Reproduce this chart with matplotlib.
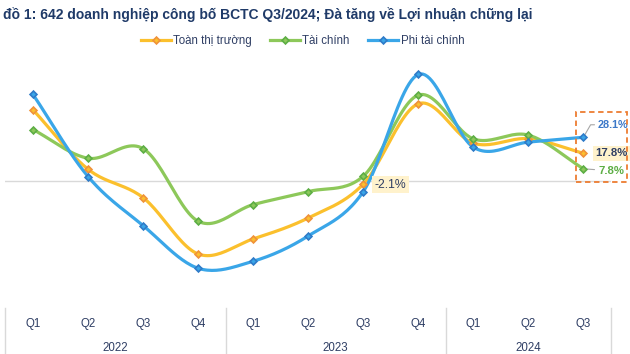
import numpy as np
import matplotlib.pyplot as plt
from matplotlib.patches import Rectangle

quarters = ['Q1', 'Q2', 'Q3', 'Q4', 'Q1', 'Q2', 'Q3', 'Q4', 'Q1', 'Q2', 'Q3']
years = ['2022', '2023', '2024']
toan_thi_truong = [45.8, 7.5, -10.8, -47.1, -37.4, -23.9, -2.1, 49.7, 24.3, 27.2, 17.8]
tai_chinh = [33.1, 14.6, 20.8, -26.0, -15.3, -6.9, 3.0, 55.3, 27.1, 29.5, 7.8]
phi_tai_chinh = [55.7, 2.8, -28.8, -56.3, -51.8, -35.5, -6.9, 68.6, 21.7, 25.0, 28.1]

NAVY = '#2F3E64'


def smooth(y, n=24):
    # Catmull-Rom curve through the points, close to Excel's smoothed line
    y = np.asarray(y, float)
    p = np.concatenate([[2 * y[0] - y[1]], y, [2 * y[-1] - y[-2]]])
    xs, ys = [], []
    for i in range(len(y) - 1):
        t = np.linspace(0, 1, n, endpoint=False)
        p0, p1, p2, p3 = p[i], p[i + 1], p[i + 2], p[i + 3]
        ys.append(0.5 * (2 * p1 + (-p0 + p2) * t + (2 * p0 - 5 * p1 + 4 * p2 - p3) * t ** 2
                         + (-p0 + 3 * p1 - 3 * p2 + p3) * t ** 3))
        xs.append(i + t)
    xs.append([len(y) - 1])
    ys.append([y[-1]])
    return np.concatenate(xs), np.concatenate(ys)


fig = plt.figure(figsize=(6.3, 3.54), dpi=100)
ax = fig.add_axes([0.0087, 0.1384, 0.961, 0.7232])
plt.rcParams['font.family'] = ['Liberation Sans', 'DejaVu Sans']

x = np.arange(len(quarters))
series = [
    ('Toàn thị trường', toan_thi_truong, '#FBC02D', '#F0923A'),
    ('Tài chính', tai_chinh, '#8DC85A', '#5DAE45'),
    ('Phi tài chính', phi_tai_chinh, '#3AA6E8', '#2F7BC8'),
]
for name, vals, lc, mc in series:
    sx, sy = smooth(vals)
    ax.plot(sx, sy, color=lc, lw=2.3, solid_capstyle='round', zorder=3)
    ax.plot(x, vals, ls='none', marker='D', ms=3.5, mfc=lc, mec=mc, mew=1.2, zorder=4)
    ax.plot([], [], color=lc, lw=2.3, marker='D', ms=3.5, mfc=lc, mec=mc, mew=1.2, label=name)

ax.axhline(0, color='#D9D9D9', lw=1, zorder=1)
ax.set_xlim(-0.5, 10.5)
ax.set_ylim(-80, 85)
for s in ax.spines.values():
    s.set_visible(False)
ax.set_yticks([])
ax.set_xticks(x)
ax.set_xticklabels([])
ax.tick_params(axis='x', length=0)

for i, q in enumerate(quarters):
    ax.text(i, -0.074, q, transform=ax.get_xaxis_transform(), ha='center', va='center',
            fontsize=8.3, color=NAVY)
for i, yr in enumerate(years):
    xc = [1.5, 5.5, 9.0][i]
    ax.text(xc, -0.168, yr, transform=ax.get_xaxis_transform(), ha='center', va='center',
            fontsize=8.3, color=NAVY)
for xs in [-0.5, 3.5, 7.5, 10.5]:
    ax.axvline(xs, ymin=-0.2, ymax=-0.012, color='#D9D9D9', lw=1, clip_on=False)

# data labels
ax.annotate('-2.1%', (6, toan_thi_truong[6]), xytext=(8, -0.5), textcoords='offset points',
            fontsize=8.8, color=NAVY, va='center', ha='left',
            bbox=dict(boxstyle='square,pad=0.2', fc='#FFF2CC', ec='none'))
ax.annotate('28.1%', (10, phi_tai_chinh[10]), xytext=(10, 9), textcoords='offset points',
            fontsize=7.8, color='#3C78C8', fontweight='bold', va='center', ha='left',
            arrowprops=dict(arrowstyle='-', color='#A6A6A6', lw=0.8,
                            connectionstyle='angle,angleA=0,angleB=60,rad=0', shrinkA=0, shrinkB=1))
ax.annotate('17.8%', (10, toan_thi_truong[10]), xytext=(8.5, 0), textcoords='offset points',
            fontsize=8.2, color=NAVY, fontweight='bold', va='center', ha='left',
            bbox=dict(boxstyle='square,pad=0.2', fc='#FFF2CC', ec='none'))
ax.annotate('7.8%', (10, tai_chinh[10]), xytext=(11, -1.5), textcoords='offset points',
            fontsize=8.2, color='#5DAE45', fontweight='bold', va='center', ha='left',
            arrowprops=dict(arrowstyle='-', color='#A6A6A6', lw=0.8, shrinkA=1, shrinkB=1))

rect = Rectangle((576 / 630, 1 - 182 / 354), 51 / 630, 70 / 354, transform=fig.transFigure,
                 fill=False, ec='#ED7D31', lw=1.3, ls=(0, (3, 2)), zorder=5)
fig.patches.append(rect)

fig.text(0.004, 0.96, 'đồ 1: 642 doanh nghiệp công bố BCTC Q3/2024; Đà tăng về Lợi nhuận chững lại',
         fontsize=10, fontweight='bold', color='#1F3A68', ha='left', va='center')
fig.legend(loc='center', bbox_to_anchor=(0.48, 0.884), ncol=3, frameon=False, fontsize=8.3,
           labelcolor=NAVY, handlelength=2.6, handletextpad=0.2, columnspacing=1.6)

fig.savefig('out.png', dpi=100)
